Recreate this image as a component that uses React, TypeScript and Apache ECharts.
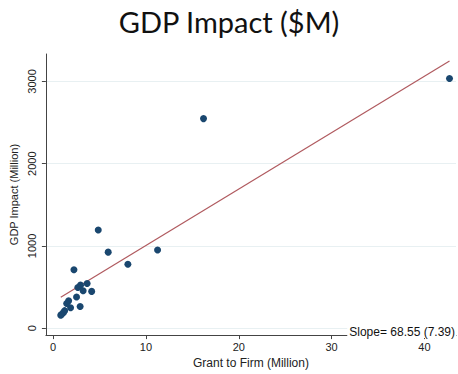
import React, { useEffect, useRef } from "react";
import * as echarts from "echarts";

const grantMillions = [42.7, 16.2, 11.25, 8.05, 5.93, 4.86, 2.24, 3.66, 2.95, 2.66, 3.23, 4.15, 2.52, 2.91, 1.88, 1.67, 1.46, 1.24, 1.1, 0.89, 0.82];
const gdpMillions = [3036, 2548, 952, 778, 925, 1195, 711, 544, 524, 496, 456, 448, 381, 265, 250, 333, 301, 214, 190, 167, 158];
const yTicks = [0, 1000, 2000, 3000];
const xTicks = [0, 10, 20, 30, 40];
const fitIntercept = 321;
const fitSlope = 68.55;
const slopeSE = 7.39;

export default function App() {
  const ref = useRef<HTMLDivElement>(null);
  useEffect(() => {
    document.body.style.margin = "0";
    if (!ref.current) return;
    const chart = echarts.init(ref.current, null, { renderer: "svg" });
    const pts = grantMillions.map((x, i) => [x, gdpMillions[i]]);
    const xmin = Math.min(...grantMillions);
    const xmax = Math.max(...grantMillions);
    const fitLine = [
      [xmin, fitIntercept + fitSlope * xmin],
      [xmax, fitIntercept + fitSlope * xmax],
    ];
    const axisFont = { fontFamily: "Liberation Sans, Arial, sans-serif", fontSize: 11, color: "#222" };
    chart.setOption({
      animation: false,
      backgroundColor: "#ffffff",
      title: {
        text: "GDP Impact ($M)",
        left: "center",
        top: 2,
        textStyle: { fontFamily: "Lato, sans-serif", fontWeight: "normal", fontSize: 29, color: "#111" },
      },
      grid: { left: 41, right: 2, top: 54, bottom: 33, containLabel: false },
      xAxis: {
        type: "value",
        min: -0.78,
        max: 43.4,
        name: "Grant to Firm (Million)",
        nameLocation: "middle",
        nameGap: 20,
        nameTextStyle: { ...axisFont, fontSize: 12 },
        axisLine: { show: true, onZero: false, lineStyle: { color: "#444", width: 1 } },
        axisTick: { show: true, length: 4, customValues: xTicks, lineStyle: { color: "#444" } },
        axisLabel: { customValues: xTicks, margin: 6, formatter: (v: number) => String(v), ...axisFont },
        splitLine: { show: false },
      },
      yAxis: {
        type: "value",
        min: -83,
        max: 3333,
        name: "GDP Impact (Million)",
        nameLocation: "middle",
        nameGap: 24,
        nameRotate: 90,
        nameTextStyle: { ...axisFont },
        axisLine: { show: true, onZero: false, lineStyle: { color: "#444", width: 1 } },
        axisTick: { show: true, length: 4, customValues: yTicks, lineStyle: { color: "#444" } },
        axisLabel: { customValues: yTicks, rotate: 90, margin: 8, formatter: (v: number) => String(v), ...axisFont },
        splitLine: { show: false },
      },
      series: [
        {
          type: "line",
          data: fitLine,
          showSymbol: false,
          symbol: "none",
          lineStyle: { color: "#b05a5f", width: 1.2 },
          silent: true,
          z: 1,
          markLine: {
            silent: true,
            symbol: "none",
            label: { show: false },
            lineStyle: { color: "#e8f0f2", width: 1, type: "solid" },
            data: yTicks.map((v) => ({ yAxis: v })),
            z: 0,
          },
        },
        {
          type: "scatter",
          data: pts,
          symbol: "circle",
          symbolSize: 7,
          itemStyle: { color: "#1a476f", opacity: 1 },
          z: 3,
        },
      ],
      graphic: [
        {
          type: "text",
          right: 2,
          top: 326,
          z: 10,
          style: {
            text: `Slope= ${fitSlope.toFixed(2)} (${slopeSE.toFixed(2)})`,
            font: "12px Liberation Sans, Arial, sans-serif",
            fill: "#111",
            backgroundColor: "#ffffff",
            padding: [0, 1, 0, 2],
          },
        },
      ],
    });
    return () => chart.dispose();
  }, []);
  return <div ref={ref} style={{ width: 458, height: 374 }} />;
}
